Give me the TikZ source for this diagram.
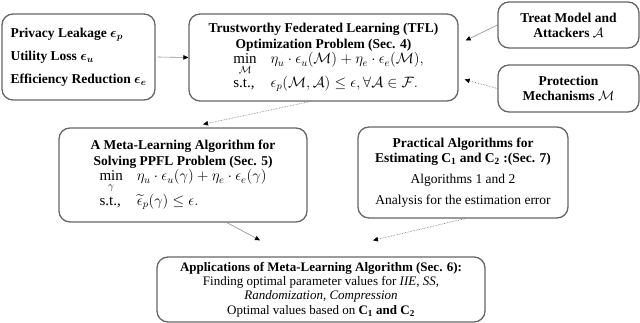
\RequirePackage{fix-cm}
\documentclass[tikz,border=0pt]{standalone}
\usepackage{amsmath,amssymb}
\usepackage{fontspec}
\setmainfont{Liberation Serif}
\usepackage{tikz}
\usetikzlibrary{arrows.meta}

\newcommand{\mathbig}{\fontsize{15}{17}\selectfont}

\begin{document}
\begin{tikzpicture}[x=1pt,y=-1pt,
  blk/.style={rectangle, rounded corners=11pt, draw=black!60, line width=1.3pt,
             align=center, inner sep=2pt, font=\fontsize{13.5}{15}\selectfont},
  arr/.style={-{Triangle[length=5pt,width=4.5pt,color=black]}, black!45, line width=0.6pt},
  darr/.style={arr, densely dotted, black!60},
]
\useasboundingbox (0,0) rectangle (640,323);

\node[blk, minimum width=153pt, minimum height=86pt, align=left] (loss) at (78.5,57)
  {\textbf{Privacy Leakage $\boldsymbol{\epsilon_p}$}\\[8pt]
   \textbf{Utility Loss $\boldsymbol{\epsilon_u}$}\\[8pt]
   \textbf{Efficiency Reduction $\boldsymbol{\epsilon_e}$}};
\node[blk, minimum width=269pt, minimum height=87pt] (tfl) at (323.5,57.5)
  {\textbf{Trustworthy Federated Learning (TFL)}\\[1pt]
   \textbf{Optimization Problem (Sec. 4)}\\[0pt]
   \hspace*{10pt}{\mathbig$\begin{array}{l@{\hspace{14pt}}l}
     \min\limits_{\mathcal{M}} & \eta_u\cdot\epsilon_u(\mathcal{M})+\eta_e\cdot\epsilon_e(\mathcal{M}),\\[0pt]
     \text{s.t.,} & \epsilon_p(\mathcal{M},\mathcal{A})\le\epsilon,\forall\mathcal{A}\in\mathcal{F}.
   \end{array}$}};
\node[blk, minimum width=141pt, minimum height=46pt] (threat) at (568.5,25)
  {\textbf{Treat Model and}\\ \textbf{Attackers $\mathcal{A}$}};
\node[blk, minimum width=141pt, minimum height=47pt] (prot) at (568.5,88.5)
  {\textbf{Protection}\\ \textbf{Mechanisms $\mathcal{M}$}};
\node[blk, minimum width=248pt, minimum height=94pt] (meta) at (183,175)
  {\textbf{A Meta-Learning Algorithm for}\\[1pt]
   \textbf{Solving PPFL Problem (Sec. 5)}\\[0pt]
   {\mathbig$\begin{array}{l@{\hspace{14pt}}l}
     \min\limits_{\gamma} & \eta_u\cdot\epsilon_u(\gamma)+\eta_e\cdot\epsilon_e(\gamma)\\[0pt]
     \text{s.t.,} & \widetilde{\epsilon}_p(\gamma)\le\epsilon.
   \end{array}$}};
\node[blk, minimum width=210pt, minimum height=91pt] (pract) at (463,172.5)
  {\textbf{Practical Algorithms for}\\
   \textbf{Estimating C\textsubscript{1} and C\textsubscript{2} :(Sec. 7)}\\[6pt]
   Algorithms 1 and 2\\[6pt]
   Analysis for the estimation error};
\node[blk, minimum width=328pt, minimum height=65pt, font=\fontsize{13}{14.3}\selectfont] (app) at (321,289.5)
  {\textbf{Applications of Meta-Learning Algorithm (Sec. 6):}\\
   Finding optimal parameter values for \textit{IIE}, \textit{SS},\\
   \textit{Randomization}, \textit{Compression}\\
   Optimal values based on \textbf{C\textsubscript{1} and C\textsubscript{2}}};

\draw[arr] (loss.east) ++(2,0) -- (tfl.west);
\draw[arr] (threat.west) -- ([xshift=7pt,yshift=17pt]tfl.east);
\draw[darr] (prot.west) -- ([xshift=6pt,yshift=-22pt]tfl.east);
\draw[darr] ([xshift=-14pt]tfl.south) -- ([xshift=20pt,yshift=3pt]meta.north);
\draw[arr] ([xshift=44pt]meta.south) -- ([xshift=-61pt,yshift=16pt]app.north);
\draw[darr] ([xshift=2pt]pract.south) -- ([xshift=52pt,yshift=16pt]app.north);
\end{tikzpicture}
\end{document}
